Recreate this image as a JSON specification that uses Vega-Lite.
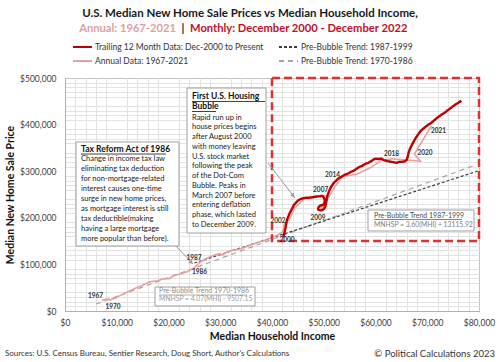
{
  "$schema": "https://vega.github.io/schema/vega-lite/v6.json",
  "width": 414,
  "height": 233,
  "autosize": {"type": "none"},
  "padding": {"left": 65, "top": 78, "right": 21, "bottom": 51},
  "background": "white",
  "config": {"font": "Lato", "view": {"stroke": "#c4c4c4"}},
  "resolve": {"axis": {"x": "independent", "y": "independent"}},
  "datasets": {
    "monthly": [
      {"series": "Trailing 12 Month Data: Dec-2000 to Present", "i": 1, "income": 42200, "price": 158000},
      {"series": "Trailing 12 Month Data: Dec-2000 to Present", "i": 2, "income": 42300, "price": 163000},
      {"series": "Trailing 12 Month Data: Dec-2000 to Present", "i": 3, "income": 42400, "price": 168000},
      {"series": "Trailing 12 Month Data: Dec-2000 to Present", "i": 4, "income": 42500, "price": 173000},
      {"series": "Trailing 12 Month Data: Dec-2000 to Present", "i": 5, "income": 42600, "price": 178000},
      {"series": "Trailing 12 Month Data: Dec-2000 to Present", "i": 6, "income": 42700, "price": 184000},
      {"series": "Trailing 12 Month Data: Dec-2000 to Present", "i": 7, "income": 42800, "price": 190000},
      {"series": "Trailing 12 Month Data: Dec-2000 to Present", "i": 8, "income": 42900, "price": 196000},
      {"series": "Trailing 12 Month Data: Dec-2000 to Present", "i": 9, "income": 43100, "price": 201000},
      {"series": "Trailing 12 Month Data: Dec-2000 to Present", "i": 10, "income": 43300, "price": 207000},
      {"series": "Trailing 12 Month Data: Dec-2000 to Present", "i": 11, "income": 43600, "price": 214000},
      {"series": "Trailing 12 Month Data: Dec-2000 to Present", "i": 12, "income": 43900, "price": 220000},
      {"series": "Trailing 12 Month Data: Dec-2000 to Present", "i": 13, "income": 44200, "price": 227000},
      {"series": "Trailing 12 Month Data: Dec-2000 to Present", "i": 14, "income": 44600, "price": 232000},
      {"series": "Trailing 12 Month Data: Dec-2000 to Present", "i": 15, "income": 45000, "price": 237000},
      {"series": "Trailing 12 Month Data: Dec-2000 to Present", "i": 16, "income": 45500, "price": 240000},
      {"series": "Trailing 12 Month Data: Dec-2000 to Present", "i": 17, "income": 46000, "price": 242000},
      {"series": "Trailing 12 Month Data: Dec-2000 to Present", "i": 18, "income": 46600, "price": 243000},
      {"series": "Trailing 12 Month Data: Dec-2000 to Present", "i": 19, "income": 47200, "price": 243000},
      {"series": "Trailing 12 Month Data: Dec-2000 to Present", "i": 20, "income": 47800, "price": 244000},
      {"series": "Trailing 12 Month Data: Dec-2000 to Present", "i": 21, "income": 48400, "price": 245000},
      {"series": "Trailing 12 Month Data: Dec-2000 to Present", "i": 22, "income": 48800, "price": 246000},
      {"series": "Trailing 12 Month Data: Dec-2000 to Present", "i": 23, "income": 49200, "price": 246000},
      {"series": "Trailing 12 Month Data: Dec-2000 to Present", "i": 24, "income": 49500, "price": 247000},
      {"series": "Trailing 12 Month Data: Dec-2000 to Present", "i": 25, "income": 49700, "price": 247000},
      {"series": "Trailing 12 Month Data: Dec-2000 to Present", "i": 26, "income": 49900, "price": 245000},
      {"series": "Trailing 12 Month Data: Dec-2000 to Present", "i": 27, "income": 50100, "price": 241000},
      {"series": "Trailing 12 Month Data: Dec-2000 to Present", "i": 28, "income": 50200, "price": 236000},
      {"series": "Trailing 12 Month Data: Dec-2000 to Present", "i": 29, "income": 50100, "price": 231000},
      {"series": "Trailing 12 Month Data: Dec-2000 to Present", "i": 30, "income": 49900, "price": 228000},
      {"series": "Trailing 12 Month Data: Dec-2000 to Present", "i": 31, "income": 49600, "price": 227000},
      {"series": "Trailing 12 Month Data: Dec-2000 to Present", "i": 32, "income": 49300, "price": 226000},
      {"series": "Trailing 12 Month Data: Dec-2000 to Present", "i": 33, "income": 49000, "price": 223000},
      {"series": "Trailing 12 Month Data: Dec-2000 to Present", "i": 34, "income": 48900, "price": 220000},
      {"series": "Trailing 12 Month Data: Dec-2000 to Present", "i": 35, "income": 49000, "price": 217000},
      {"series": "Trailing 12 Month Data: Dec-2000 to Present", "i": 36, "income": 49400, "price": 216000},
      {"series": "Trailing 12 Month Data: Dec-2000 to Present", "i": 37, "income": 49800, "price": 217000},
      {"series": "Trailing 12 Month Data: Dec-2000 to Present", "i": 38, "income": 50100, "price": 220000},
      {"series": "Trailing 12 Month Data: Dec-2000 to Present", "i": 39, "income": 50300, "price": 224000},
      {"series": "Trailing 12 Month Data: Dec-2000 to Present", "i": 40, "income": 50400, "price": 229000},
      {"series": "Trailing 12 Month Data: Dec-2000 to Present", "i": 41, "income": 50500, "price": 235000},
      {"series": "Trailing 12 Month Data: Dec-2000 to Present", "i": 42, "income": 50600, "price": 241000},
      {"series": "Trailing 12 Month Data: Dec-2000 to Present", "i": 43, "income": 50700, "price": 247000},
      {"series": "Trailing 12 Month Data: Dec-2000 to Present", "i": 44, "income": 50900, "price": 253000},
      {"series": "Trailing 12 Month Data: Dec-2000 to Present", "i": 45, "income": 51100, "price": 259000},
      {"series": "Trailing 12 Month Data: Dec-2000 to Present", "i": 46, "income": 51400, "price": 266000},
      {"series": "Trailing 12 Month Data: Dec-2000 to Present", "i": 47, "income": 51800, "price": 273000},
      {"series": "Trailing 12 Month Data: Dec-2000 to Present", "i": 48, "income": 52300, "price": 279000},
      {"series": "Trailing 12 Month Data: Dec-2000 to Present", "i": 49, "income": 52800, "price": 284000},
      {"series": "Trailing 12 Month Data: Dec-2000 to Present", "i": 50, "income": 53400, "price": 288000},
      {"series": "Trailing 12 Month Data: Dec-2000 to Present", "i": 51, "income": 54000, "price": 292000},
      {"series": "Trailing 12 Month Data: Dec-2000 to Present", "i": 52, "income": 54700, "price": 295000},
      {"series": "Trailing 12 Month Data: Dec-2000 to Present", "i": 53, "income": 55300, "price": 299000},
      {"series": "Trailing 12 Month Data: Dec-2000 to Present", "i": 54, "income": 55800, "price": 301000},
      {"series": "Trailing 12 Month Data: Dec-2000 to Present", "i": 55, "income": 56300, "price": 305000},
      {"series": "Trailing 12 Month Data: Dec-2000 to Present", "i": 56, "income": 56900, "price": 309000},
      {"series": "Trailing 12 Month Data: Dec-2000 to Present", "i": 57, "income": 57500, "price": 312000},
      {"series": "Trailing 12 Month Data: Dec-2000 to Present", "i": 58, "income": 58100, "price": 316000},
      {"series": "Trailing 12 Month Data: Dec-2000 to Present", "i": 59, "income": 58600, "price": 318000},
      {"series": "Trailing 12 Month Data: Dec-2000 to Present", "i": 60, "income": 59100, "price": 321000},
      {"series": "Trailing 12 Month Data: Dec-2000 to Present", "i": 61, "income": 59600, "price": 325000},
      {"series": "Trailing 12 Month Data: Dec-2000 to Present", "i": 62, "income": 60100, "price": 327000},
      {"series": "Trailing 12 Month Data: Dec-2000 to Present", "i": 63, "income": 60600, "price": 326000},
      {"series": "Trailing 12 Month Data: Dec-2000 to Present", "i": 64, "income": 61100, "price": 327000},
      {"series": "Trailing 12 Month Data: Dec-2000 to Present", "i": 65, "income": 61600, "price": 324000},
      {"series": "Trailing 12 Month Data: Dec-2000 to Present", "i": 66, "income": 62100, "price": 322000},
      {"series": "Trailing 12 Month Data: Dec-2000 to Present", "i": 67, "income": 62600, "price": 321000},
      {"series": "Trailing 12 Month Data: Dec-2000 to Present", "i": 68, "income": 63100, "price": 320000},
      {"series": "Trailing 12 Month Data: Dec-2000 to Present", "i": 69, "income": 63600, "price": 319000},
      {"series": "Trailing 12 Month Data: Dec-2000 to Present", "i": 70, "income": 64100, "price": 318000},
      {"series": "Trailing 12 Month Data: Dec-2000 to Present", "i": 71, "income": 64600, "price": 320000},
      {"series": "Trailing 12 Month Data: Dec-2000 to Present", "i": 72, "income": 65100, "price": 320000},
      {"series": "Trailing 12 Month Data: Dec-2000 to Present", "i": 73, "income": 65600, "price": 321000},
      {"series": "Trailing 12 Month Data: Dec-2000 to Present", "i": 74, "income": 66000, "price": 324000},
      {"series": "Trailing 12 Month Data: Dec-2000 to Present", "i": 75, "income": 66200, "price": 330000},
      {"series": "Trailing 12 Month Data: Dec-2000 to Present", "i": 76, "income": 66400, "price": 340000},
      {"series": "Trailing 12 Month Data: Dec-2000 to Present", "i": 77, "income": 66700, "price": 349000},
      {"series": "Trailing 12 Month Data: Dec-2000 to Present", "i": 78, "income": 67100, "price": 358000},
      {"series": "Trailing 12 Month Data: Dec-2000 to Present", "i": 79, "income": 67600, "price": 368000},
      {"series": "Trailing 12 Month Data: Dec-2000 to Present", "i": 80, "income": 68100, "price": 377000},
      {"series": "Trailing 12 Month Data: Dec-2000 to Present", "i": 81, "income": 68700, "price": 386000},
      {"series": "Trailing 12 Month Data: Dec-2000 to Present", "i": 82, "income": 69400, "price": 393000},
      {"series": "Trailing 12 Month Data: Dec-2000 to Present", "i": 83, "income": 70100, "price": 399000},
      {"series": "Trailing 12 Month Data: Dec-2000 to Present", "i": 84, "income": 70800, "price": 404000},
      {"series": "Trailing 12 Month Data: Dec-2000 to Present", "i": 85, "income": 71400, "price": 410000},
      {"series": "Trailing 12 Month Data: Dec-2000 to Present", "i": 86, "income": 72100, "price": 416000},
      {"series": "Trailing 12 Month Data: Dec-2000 to Present", "i": 87, "income": 72700, "price": 421000},
      {"series": "Trailing 12 Month Data: Dec-2000 to Present", "i": 88, "income": 73400, "price": 426000},
      {"series": "Trailing 12 Month Data: Dec-2000 to Present", "i": 89, "income": 74000, "price": 431000},
      {"series": "Trailing 12 Month Data: Dec-2000 to Present", "i": 90, "income": 74700, "price": 437000},
      {"series": "Trailing 12 Month Data: Dec-2000 to Present", "i": 91, "income": 75300, "price": 442000},
      {"series": "Trailing 12 Month Data: Dec-2000 to Present", "i": 92, "income": 76000, "price": 447000},
      {"series": "Trailing 12 Month Data: Dec-2000 to Present", "i": 93, "income": 76600, "price": 451000}
    ],
    "annual": [
      {"series": "Annual Data: 1967-2021", "i": 1967, "income": 7143, "price": 22700},
      {"series": "Annual Data: 1967-2021", "i": 1968, "income": 7743, "price": 24700},
      {"series": "Annual Data: 1967-2021", "i": 1969, "income": 8389, "price": 25600},
      {"series": "Annual Data: 1967-2021", "i": 1970, "income": 8734, "price": 23400},
      {"series": "Annual Data: 1967-2021", "i": 1971, "income": 9028, "price": 25200},
      {"series": "Annual Data: 1967-2021", "i": 1972, "income": 9697, "price": 27600},
      {"series": "Annual Data: 1967-2021", "i": 1973, "income": 10512, "price": 32500},
      {"series": "Annual Data: 1967-2021", "i": 1974, "income": 11197, "price": 35900},
      {"series": "Annual Data: 1967-2021", "i": 1975, "income": 11800, "price": 39300},
      {"series": "Annual Data: 1967-2021", "i": 1976, "income": 12686, "price": 44200},
      {"series": "Annual Data: 1967-2021", "i": 1977, "income": 13572, "price": 48800},
      {"series": "Annual Data: 1967-2021", "i": 1978, "income": 15064, "price": 55700},
      {"series": "Annual Data: 1967-2021", "i": 1979, "income": 16461, "price": 62900},
      {"series": "Annual Data: 1967-2021", "i": 1980, "income": 17710, "price": 64600},
      {"series": "Annual Data: 1967-2021", "i": 1981, "income": 19074, "price": 68900},
      {"series": "Annual Data: 1967-2021", "i": 1982, "income": 20171, "price": 69300},
      {"series": "Annual Data: 1967-2021", "i": 1983, "income": 20885, "price": 75300},
      {"series": "Annual Data: 1967-2021", "i": 1984, "income": 22415, "price": 79900},
      {"series": "Annual Data: 1967-2021", "i": 1985, "income": 23618, "price": 84300},
      {"series": "Annual Data: 1967-2021", "i": 1986, "income": 24897, "price": 92000},
      {"series": "Annual Data: 1967-2021", "i": 1987, "income": 26061, "price": 104500},
      {"series": "Annual Data: 1967-2021", "i": 1988, "income": 27225, "price": 112500},
      {"series": "Annual Data: 1967-2021", "i": 1989, "income": 28906, "price": 120000},
      {"series": "Annual Data: 1967-2021", "i": 1990, "income": 29943, "price": 122900},
      {"series": "Annual Data: 1967-2021", "i": 1991, "income": 30126, "price": 120000},
      {"series": "Annual Data: 1967-2021", "i": 1992, "income": 30636, "price": 121500},
      {"series": "Annual Data: 1967-2021", "i": 1993, "income": 31241, "price": 126500},
      {"series": "Annual Data: 1967-2021", "i": 1994, "income": 32264, "price": 130000},
      {"series": "Annual Data: 1967-2021", "i": 1995, "income": 34076, "price": 133900},
      {"series": "Annual Data: 1967-2021", "i": 1996, "income": 35492, "price": 140000},
      {"series": "Annual Data: 1967-2021", "i": 1997, "income": 37005, "price": 146000},
      {"series": "Annual Data: 1967-2021", "i": 1998, "income": 38885, "price": 152500},
      {"series": "Annual Data: 1967-2021", "i": 1999, "income": 40696, "price": 161000},
      {"series": "Annual Data: 1967-2021", "i": 2000, "income": 41990, "price": 169000},
      {"series": "Annual Data: 1967-2021", "i": 2001, "income": 42228, "price": 175200},
      {"series": "Annual Data: 1967-2021", "i": 2002, "income": 42409, "price": 187600},
      {"series": "Annual Data: 1967-2021", "i": 2003, "income": 43318, "price": 195000},
      {"series": "Annual Data: 1967-2021", "i": 2004, "income": 44334, "price": 221000},
      {"series": "Annual Data: 1967-2021", "i": 2005, "income": 46326, "price": 240900},
      {"series": "Annual Data: 1967-2021", "i": 2006, "income": 48201, "price": 246500},
      {"series": "Annual Data: 1967-2021", "i": 2007, "income": 50233, "price": 247900},
      {"series": "Annual Data: 1967-2021", "i": 2008, "income": 50303, "price": 232100},
      {"series": "Annual Data: 1967-2021", "i": 2009, "income": 49777, "price": 216700},
      {"series": "Annual Data: 1967-2021", "i": 2010, "income": 49276, "price": 221800},
      {"series": "Annual Data: 1967-2021", "i": 2011, "income": 50054, "price": 227200},
      {"series": "Annual Data: 1967-2021", "i": 2012, "income": 51017, "price": 245200},
      {"series": "Annual Data: 1967-2021", "i": 2013, "income": 52250, "price": 268900},
      {"series": "Annual Data: 1967-2021", "i": 2014, "income": 53657, "price": 288500},
      {"series": "Annual Data: 1967-2021", "i": 2015, "income": 56516, "price": 294200},
      {"series": "Annual Data: 1967-2021", "i": 2016, "income": 59039, "price": 307800},
      {"series": "Annual Data: 1967-2021", "i": 2017, "income": 61136, "price": 323100},
      {"series": "Annual Data: 1967-2021", "i": 2018, "income": 63179, "price": 326400},
      {"series": "Annual Data: 1967-2021", "i": 2019, "income": 68703, "price": 321500},
      {"series": "Annual Data: 1967-2021", "i": 2020, "income": 67521, "price": 336900},
      {"series": "Annual Data: 1967-2021", "i": 2021, "income": 70784, "price": 397100}
    ],
    "trend87": [
      {"series": "Pre-Bubble Trend: 1987-1999", "i": 1, "income": 25000, "price": 103116},
      {"series": "Pre-Bubble Trend: 1987-1999", "i": 2, "income": 80000, "price": 301116}
    ],
    "trend70": [
      {"series": "Pre-Bubble Trend: 1970-1986", "i": 1, "income": 6000, "price": 14913},
      {"series": "Pre-Bubble Trend: 1970-1986", "i": 2, "income": 79000, "price": 312023}
    ],
    "years": [
      {"label": "1967", "income": 5894, "price": 32190},
      {"label": "1970", "income": 9276, "price": 8584},
      {"label": "1986", "income": 25991, "price": 83690},
      {"label": "1987", "income": 24928, "price": 113734},
      {"label": "2000", "income": 42900, "price": 152000},
      {"label": "2002", "income": 41150, "price": 192500},
      {"label": "2007", "income": 49400, "price": 259000},
      {"label": "2009", "income": 48890, "price": 200000},
      {"label": "2014", "income": 51692, "price": 291845},
      {"label": "2018", "income": 63093, "price": 336909},
      {"label": "2020", "income": 69566, "price": 339055},
      {"label": "2021", "income": 72176, "price": 386266}
    ]
  },
  "layer": [
    {
      "data": {"name": "trend70"},
      "mark": {"type": "line", "strokeWidth": 1.2},
      "encoding": {
        "x": {
          "field": "income", "type": "quantitative",
          "scale": {"domain": [0, 80000], "nice": false, "zero": false},
          "axis": {
            "orient": "bottom", "title": null, "labels": false, "ticks": false, "domain": false,
            "values": [2000,4000,6000,8000,12000,14000,16000,18000,22000,24000,26000,28000,32000,34000,36000,38000,42000,44000,46000,48000,52000,54000,56000,58000,62000,64000,66000,68000,72000,74000,76000,78000],
            "gridColor": "#e3e3e3"
          }
        },
        "y": {
          "field": "price", "type": "quantitative",
          "scale": {"domain": [0, 500000], "nice": false, "zero": false},
          "axis": {
            "orient": "left", "title": null, "labels": false, "ticks": false, "domain": false,
            "values": [10000,20000,30000,40000,60000,70000,80000,90000,110000,120000,130000,140000,160000,170000,180000,190000,210000,220000,230000,240000,260000,270000,280000,290000,310000,320000,330000,340000,360000,370000,380000,390000,410000,420000,430000,440000,460000,470000,480000,490000],
            "gridColor": "#e3e3e3"
          }
        },
        "color": {
          "field": "series", "type": "nominal",
          "scale": {
            "domain": ["Trailing 12 Month Data: Dec-2000 to Present", "Annual Data: 1967-2021", "Pre-Bubble Trend: 1987-1999", "Pre-Bubble Trend: 1970-1986"],
            "range": ["#c00000", "#e8a0a0", "#404040", "#a6a6a6"]
          },
          "legend": {
            "title": null, "orient": "none", "legendX": 7, "legendY": -37, "columns": 2,
            "columnPadding": 14, "rowPadding": 2, "clipHeight": 12,
            "symbolType": "stroke", "symbolSize": 361, "symbolStrokeWidth": 2,
            "labelFont": "Lato", "labelFontSize": 8.5, "labelColor": "#333", "labelOffset": 2, "labelLimit": 300
          }
        },
        "strokeDash": {
          "field": "series", "type": "nominal",
          "scale": {
            "domain": ["Trailing 12 Month Data: Dec-2000 to Present", "Annual Data: 1967-2021", "Pre-Bubble Trend: 1987-1999", "Pre-Bubble Trend: 1970-1986"],
            "range": [[1, 0], [1, 0], [3, 2], [5, 4]]
          }
        },
        "order": {"field": "i", "type": "quantitative"}
      }
    },
    {
      "layer": [
        {
          "data": {"name": "trend87"},
          "mark": {"type": "line", "strokeWidth": 1.2},
          "encoding": {
            "x": {
              "field": "income", "type": "quantitative",
              "axis": {
                "orient": "bottom",
                "title": "Median Household Income",
                "values": [0,10000,20000,30000,40000,50000,60000,70000,80000],
                "format": "$,.0f", "labelFlush": false,
                "labelFont": "Lato", "labelFontSize": 8.5, "labelColor": "#404040", "labelPadding": 7,
                "ticks": false, "domainColor": "#b0b0b0", "gridColor": "#d4d4d4",
                "titleFont": "Lato", "titleFontSize": 10.5, "titleFontWeight": "bold", "titleColor": "#111", "titlePadding": 5
              }
            },
            "y": {
              "field": "price", "type": "quantitative",
              "axis": {
                "orient": "left",
                "title": "Median New Home Sale Price",
                "values": [0,50000,100000,150000,200000,250000,300000,350000,400000,450000,500000],
                "format": "$,.0f", "labelFlush": false,
                "labelFont": "Lato", "labelFontSize": 8.5, "labelColor": "#404040", "labelPadding": 9,
                "ticks": false, "domainColor": "#b0b0b0", "gridColor": "#c4c4c4",
                "titleFont": "Lato", "titleFontSize": 10.5, "titleFontWeight": "bold", "titleColor": "#111", "titlePadding": 4
              }
            },
            "color": {"field": "series", "type": "nominal"},
            "strokeDash": {"field": "series", "type": "nominal"},
            "order": {"field": "i", "type": "quantitative"}
          }
        },
        {
          "data": {"name": "annual"},
          "mark": {"type": "line", "strokeWidth": 1.6},
          "encoding": {
            "x": {"field": "income", "type": "quantitative"},
            "y": {"field": "price", "type": "quantitative"},
            "color": {"field": "series", "type": "nominal"},
            "strokeDash": {"field": "series", "type": "nominal"},
            "order": {"field": "i", "type": "quantitative"}
          }
        },
        {
          "data": {"name": "monthly"},
          "mark": {"type": "line", "strokeWidth": 2.4},
          "encoding": {
            "x": {"field": "income", "type": "quantitative"},
            "y": {"field": "price", "type": "quantitative"},
            "color": {"field": "series", "type": "nominal"},
            "strokeDash": {"field": "series", "type": "nominal"},
            "order": {"field": "i", "type": "quantitative"}
          }
        },
        {
          "data": {"values": [{}]},
          "mark": {"type": "rect", "fillOpacity": 0, "stroke": "#e03030", "strokeWidth": 2.5, "strokeDash": [8, 4]},
          "encoding": {
            "x": {"datum": 40000, "type": "quantitative"}, "x2": {"datum": 80000},
            "y": {"datum": 150000, "type": "quantitative"}, "y2": {"datum": 500000}
          }
        },
        {
          "data": {"values": [{}]},
          "mark": {"type": "rule", "color": "#9a9a9a", "strokeWidth": 1},
          "encoding": {
            "x": {"datum": 21450, "type": "quantitative"}, "x2": {"datum": 24735},
            "y": {"datum": 139485, "type": "quantitative"}, "y2": {"datum": 100858}
          }
        },
        {
          "data": {"values": [{}]},
          "mark": {"type": "point", "shape": "triangle-up", "filled": true, "color": "#9a9a9a", "opacity": 1, "size": 22, "angle": 129},
          "encoding": {
            "x": {"datum": 24400, "type": "quantitative"},
            "y": {"datum": 104000, "type": "quantitative"}
          }
        },
        {
          "data": {"values": [{}]},
          "mark": {"type": "rule", "color": "#9a9a9a", "strokeWidth": 1},
          "encoding": {
            "x": {"datum": 39228, "type": "quantitative"}, "x2": {"datum": 44445},
            "y": {"datum": 317596, "type": "quantitative"}, "y2": {"datum": 242489}
          }
        },
        {
          "data": {"values": [{}]},
          "mark": {"type": "point", "shape": "triangle-up", "filled": true, "color": "#9a9a9a", "opacity": 1, "size": 22, "angle": 142},
          "encoding": {
            "x": {"datum": 44100, "type": "quantitative"},
            "y": {"datum": 247500, "type": "quantitative"}
          }
        },
        {
          "data": {"values": [{}]},
          "mark": {"type": "rect", "fill": "white", "stroke": "#a0a0a0", "strokeWidth": 1},
          "encoding": {
            "x": {"datum": 2126, "type": "quantitative"}, "x2": {"datum": 22029},
            "y": {"datum": 139485, "type": "quantitative"}, "y2": {"datum": 362661}
          }
        },
        {
          "data": {"values": [{}]},
          "mark": {"type": "text", "text": "Tax Reform Act of 1986", "align": "left", "baseline": "middle", "font": "Lato", "fontSize": 8.5, "fontWeight": "bold", "color": "#111"},
          "encoding": {
            "x": {"datum": 3092, "type": "quantitative"},
            "y": {"datum": 346995, "type": "quantitative"}
          }
        },
        {
          "data": {"values": [{}]},
          "mark": {"type": "rule", "color": "#111", "strokeWidth": 0.8},
          "encoding": {
            "x": {"datum": 3092, "type": "quantitative"}, "x2": {"datum": 19518},
            "y": {"datum": 336909, "type": "quantitative"}
          }
        },
        {
          "data": {"values": [{}]},
          "mark": {
            "type": "text",
            "text": ["Change in income tax law", "eliminating tax deduction", "for non-mortgage-related", "interest causes one-time", "surge in new home prices,", "as mortgage interest is still", "tax deductible(making", "having a large mortgage", "more popular than before)."],
            "align": "left", "baseline": "top", "lineHeight": 9.96, "font": "Lato", "fontSize": 7.5, "color": "#222"
          },
          "encoding": {
            "x": {"datum": 3092, "type": "quantitative"},
            "y": {"datum": 334120, "type": "quantitative"}
          }
        },
        {
          "data": {"values": [{}]},
          "mark": {"type": "rect", "fill": "white", "stroke": "#a0a0a0", "strokeWidth": 1},
          "encoding": {
            "x": {"datum": 23575, "type": "quantitative"}, "x2": {"datum": 38841},
            "y": {"datum": 167380, "type": "quantitative"}, "y2": {"datum": 478540}
          }
        },
        {
          "data": {"values": [{}]},
          "mark": {"type": "text", "text": ["First U.S. Housing", "Bubble"], "align": "left", "baseline": "top", "lineHeight": 10, "font": "Lato", "fontSize": 8.5, "fontWeight": "bold", "color": "#111"},
          "encoding": {
            "x": {"datum": 24541, "type": "quantitative"},
            "y": {"datum": 469742, "type": "quantitative"}
          }
        },
        {
          "data": {"values": [{}]},
          "mark": {"type": "rule", "color": "#111", "strokeWidth": 0.8},
          "encoding": {
            "x": {"datum": 24541, "type": "quantitative"}, "x2": {"datum": 38647},
            "y": {"datum": 449570, "type": "quantitative"}
          }
        },
        {
          "data": {"values": [{}]},
          "mark": {"type": "rule", "color": "#111", "strokeWidth": 0.8},
          "encoding": {
            "x": {"datum": 24541, "type": "quantitative"}, "x2": {"datum": 29179},
            "y": {"datum": 428111, "type": "quantitative"}
          }
        },
        {
          "data": {"values": [{}]},
          "mark": {
            "type": "text",
            "text": ["Rapid run up in", "house prices begins", "after August 2000", "with money leaving", "U.S. stock market", "following the peak", "of the Dot-Com", "Bubble.  Peaks in", "March 2007 before", "entering deflation", "phase, which lasted", "to December 2009."],
            "align": "left", "baseline": "top", "lineHeight": 9.75, "font": "Lato", "fontSize": 7.5, "color": "#222"
          },
          "encoding": {
            "x": {"datum": 24541, "type": "quantitative"},
            "y": {"datum": 423498, "type": "quantitative"}
          }
        },
        {
          "data": {"values": [{}]},
          "mark": {"type": "rect", "fill": "white", "stroke": "#a0a0a0", "strokeWidth": 1},
          "encoding": {
            "x": {"datum": 58552, "type": "quantitative"}, "x2": {"datum": 79035},
            "y": {"datum": 171674, "type": "quantitative"}, "y2": {"datum": 216738}
          }
        },
        {
          "data": {"values": [{}]},
          "mark": {"type": "text", "text": "Pre-Bubble Trend 1987-1999", "align": "left", "baseline": "middle", "font": "Lato", "fontSize": 7, "color": "#4a4a4a"},
          "encoding": {
            "x": {"datum": 59711, "type": "quantitative"},
            "y": {"datum": 204506, "type": "quantitative"}
          }
        },
        {
          "data": {"values": [{}]},
          "mark": {"type": "rule", "color": "#4a4a4a", "strokeWidth": 0.7},
          "encoding": {
            "x": {"datum": 59711, "type": "quantitative"}, "x2": {"datum": 76717},
            "y": {"datum": 196352, "type": "quantitative"}
          }
        },
        {
          "data": {"values": [{}]},
          "mark": {"type": "text", "text": "MNHSP = 3.60(MHI) + 13115.92", "align": "left", "baseline": "middle", "font": "Lato", "fontSize": 6.8, "color": "#808080"},
          "encoding": {
            "x": {"datum": 59711, "type": "quantitative"},
            "y": {"datum": 184549, "type": "quantitative"}
          }
        },
        {
          "data": {"values": [{}]},
          "mark": {"type": "rect", "fill": "white", "stroke": "#a0a0a0", "strokeWidth": 1},
          "encoding": {
            "x": {"datum": 17392, "type": "quantitative"}, "x2": {"datum": 36716},
            "y": {"datum": 10730, "type": "quantitative"}, "y2": {"datum": 51502}
          }
        },
        {
          "data": {"values": [{}]},
          "mark": {"type": "text", "text": "Pre-Bubble Trend 1970-1986", "align": "left", "baseline": "middle", "font": "Lato", "fontSize": 7, "color": "#8c8c8c"},
          "encoding": {
            "x": {"datum": 18165, "type": "quantitative"},
            "y": {"datum": 42918, "type": "quantitative"}
          }
        },
        {
          "data": {"values": [{}]},
          "mark": {"type": "rule", "color": "#8c8c8c", "strokeWidth": 0.7},
          "encoding": {
            "x": {"datum": 18165, "type": "quantitative"}, "x2": {"datum": 35170},
            "y": {"datum": 34335, "type": "quantitative"}
          }
        },
        {
          "data": {"values": [{}]},
          "mark": {"type": "text", "text": "MNHSP = 4.07(MHI) - 9507.15", "align": "left", "baseline": "middle", "font": "Lato", "fontSize": 6.8, "color": "#9a9a9a"},
          "encoding": {
            "x": {"datum": 18165, "type": "quantitative"},
            "y": {"datum": 25107, "type": "quantitative"}
          }
        },
        {
          "data": {"name": "years"},
          "mark": {"type": "text", "align": "center", "baseline": "middle", "font": "Lato", "fontSize": 6.5, "fontWeight": "bold", "color": "#333"},
          "encoding": {
            "x": {"field": "income", "type": "quantitative"},
            "y": {"field": "price", "type": "quantitative"},
            "text": {"field": "label"}
          }
        },
        {
          "data": {"values": [{}]},
          "mark": {"type": "text", "text": "U.S. Median New Home Sale Prices vs Median Household Income,", "align": "center", "baseline": "middle", "font": "Lato", "fontSize": 11.5, "fontWeight": "bold", "color": "#1a1a1a"},
          "encoding": {
            "x": {"datum": 35749, "type": "quantitative"},
            "y": {"datum": 637338, "type": "quantitative"}
          }
        },
        {
          "data": {"values": [{}]},
          "mark": {"type": "text", "text": "Annual: 1967-2021", "align": "right", "baseline": "middle", "font": "Lato", "fontSize": 11.2, "fontWeight": "bold", "color": "#e0a0a0"},
          "encoding": {
            "x": {"datum": 21449, "type": "quantitative"},
            "y": {"datum": 605149, "type": "quantitative"}
          }
        },
        {
          "data": {"values": [{}]},
          "mark": {"type": "text", "text": "|", "align": "center", "baseline": "middle", "font": "Lato", "fontSize": 11.2, "fontWeight": "bold", "color": "#222"},
          "encoding": {
            "x": {"datum": 22802, "type": "quantitative"},
            "y": {"datum": 605149, "type": "quantitative"}
          }
        },
        {
          "data": {"values": [{}]},
          "mark": {"type": "text", "text": "Monthly: December 2000 - December 2022", "align": "left", "baseline": "middle", "font": "Lato", "fontSize": 11.2, "fontWeight": "bold", "color": "#c0102a"},
          "encoding": {
            "x": {"datum": 24155, "type": "quantitative"},
            "y": {"datum": 605149, "type": "quantitative"}
          }
        },
        {
          "data": {"values": [{}]},
          "mark": {"type": "text", "text": "Sources: U.S. Census Bureau, Sentier Research, Doug Short,  Author's Calculations", "align": "left", "baseline": "middle", "font": "Lato", "fontSize": 8, "color": "#333"},
          "encoding": {
            "x": {"datum": -11594, "type": "quantitative"},
            "y": {"datum": -92275, "type": "quantitative"}
          }
        },
        {
          "data": {"values": [{}]},
          "mark": {"type": "text", "text": "© Political Calculations 2023", "align": "right", "baseline": "middle", "font": "Lato", "fontSize": 9.5, "color": "#333"},
          "encoding": {
            "x": {"datum": 83092, "type": "quantitative"},
            "y": {"datum": -92275, "type": "quantitative"}
          }
        }
      ]
    }
  ]
}
